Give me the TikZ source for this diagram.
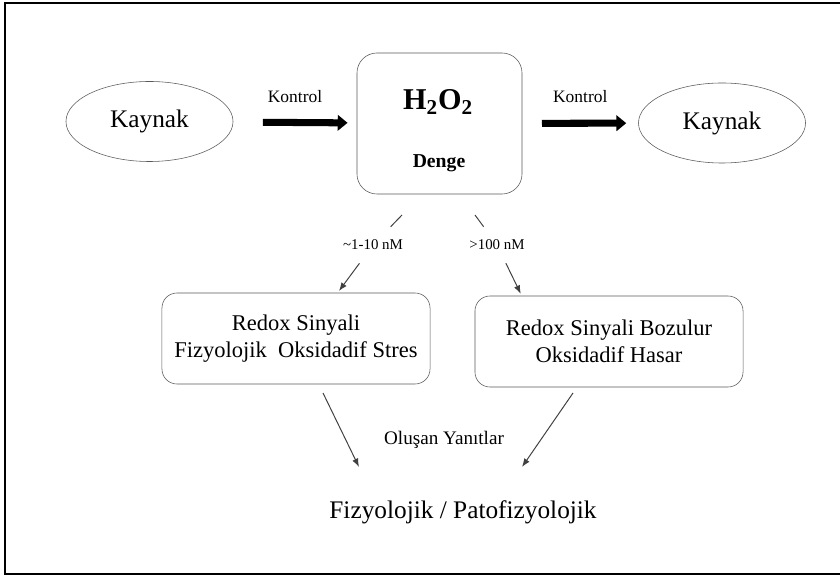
\documentclass[tikz,border=0pt]{standalone}
\usepackage{fontspec}
\setmainfont{Liberation Serif}
\usetikzlibrary{positioning,shapes.geometric,arrows.meta,calc}

\begin{document}
\begin{tikzpicture}[x=0.025cm,y=-0.025cm,
        kaynak/.style={draw=black!65,ellipse,minimum width=4.175cm,minimum height=2cm,inner sep=0pt,font=\fontsize{18}{21}\selectfont},
        kutu/.style={draw=black!65,rounded corners=0.375cm,minimum width=6.7cm,minimum height=2.275cm,align=center,font=\fontsize{16}{19}\selectfont},
        kalin/.style={-{Triangle[length=7pt,width=11pt]},line width=5pt},
        ince/.style={draw=black!75,line width=0.7pt},
        ok/.style={ince,-{Latex[length=6pt,width=4.5pt]}},
        etiket/.style={font=\fontsize{10.6}{12}\selectfont,minimum height=0.9cm,inner sep=0pt}]
        \useasboundingbox (0,0) rectangle (840,576);
        \draw[line width=1.4pt] (5,3) rectangle (846,574);

        \node (KaynakL)[kaynak] at (149.5,121.5) {Kaynak};
        \node (H2O2)[draw=black!65,rounded corners=0.5cm,minimum width=4.125cm,minimum height=3.525cm] at (439.5,123.5) {};
        \node (Formul) at (438,102) {\fontsize{21.5}{24}\selectfont\textbf{H\textsubscript{2}O\textsubscript{2}}};
        \node (Denge) at (439,163) {\fontsize{14}{16}\selectfont\textbf{Denge}};
        \node (KaynakR)[kaynak] at (722,123) {Kaynak};

        \draw [kalin,shorten <=21pt,shorten >=6.5pt] (KaynakL) -- node[above=8.5pt,font=\fontsize{12.4}{14}\selectfont]{Kontrol} (H2O2);
        \draw [kalin,shorten <=14pt,shorten >=8.5pt] (H2O2) -- node[above=8.5pt,font=\fontsize{12.4}{14}\selectfont]{Kontrol} (KaynakR);

        \node (Redox)[kutu] at (296,338.5) {Redox Sinyali\\Fizyolojik\ \ Oksidadif Stres};
        \node (Bozulur)[kutu] at (609,341.5) {Redox Sinyali Bozulur\\Oksidadif Hasar};

        % konsantrasyon etiketleri
        \node (Dusuk)[etiket] at (373,245) {\textasciitilde1-10 nM};
        \node (Yuksek)[etiket] at (497,245) {>100 nM};
        \coordinate (DusukUst) at (402,215);
        \coordinate (YuksekUst) at (475,215);
        \draw [ince] (DusukUst) -- (Dusuk);
        \draw [ok,shorten >=1.5pt] (Dusuk) -- ($(Redox.north west)+(176,0)$);
        \draw [ince] (YuksekUst) -- (Yuksek);
        \draw [ok,shorten >=1.5pt] (Yuksek) -- ($(Bozulur.north west)+(47,0)$);

        \node (Yanit) at (444,440) {\fontsize{13.6}{16}\selectfont Oluşan Yanıtlar};
        \node (Sonuc) at (463,512) {\fontsize{18}{21}\selectfont Fizyolojik / Patofizyolojik};
        \coordinate (RedoxAlt) at (323,393);
        \coordinate (BozulurAlt) at (573,393);
        \coordinate (SonucSol) at (359,467);
        \coordinate (SonucSag) at (522,467);
        \draw [ok] (RedoxAlt) -- (SonucSol);
        \draw [ok] (BozulurAlt) -- (SonucSag);
    \end{tikzpicture}
\end{document}
